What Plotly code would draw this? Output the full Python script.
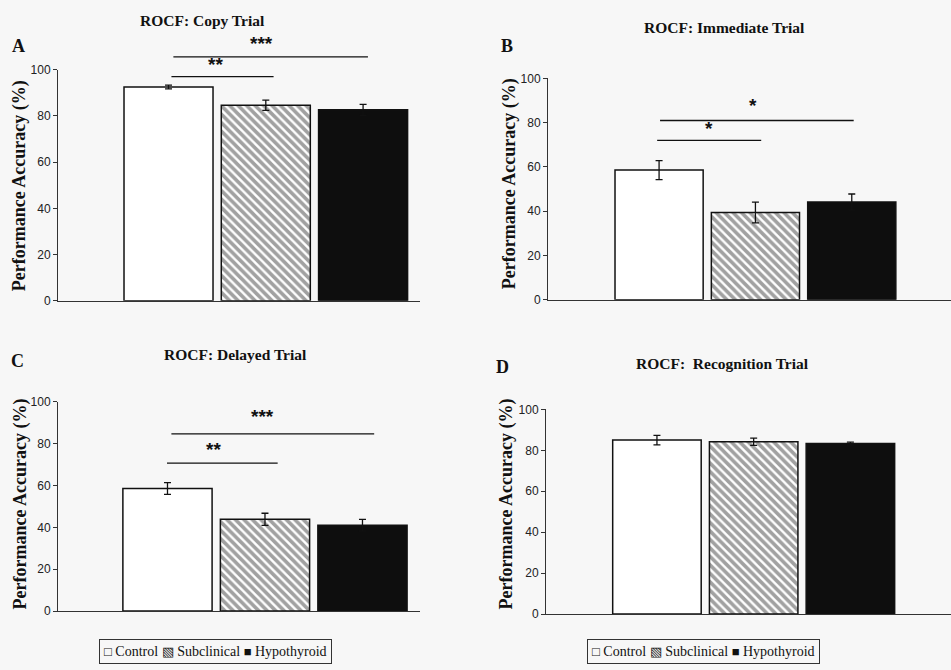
import plotly.graph_objects as go

# ---------------- data ----------------
categories = ["Control", "Subclinical", "Hypothyroid"]
panel_titles = ["ROCF: Copy Trial", "ROCF: Immediate Trial",
                "ROCF: Delayed Trial", "ROCF:  Recognition Trial"]
panel_letters = ["A", "B", "C", "D"]
y_title = "Performance Accuracy (%)"
y_ticks = [0, 20, 40, 60, 80, 100]

copy_mean = [92.5, 84.6, 82.6]
copy_sem = [0.8, 2.2, 2.4]
immediate_mean = [58.6, 39.4, 44.2]
immediate_sem = [4.3, 4.7, 3.6]
delayed_mean = [58.5, 43.8, 41.0]
delayed_sem = [2.8, 2.9, 2.8]
recognition_mean = [85.0, 84.2, 83.3]
recognition_sem = [2.3, 1.8, 0.7]

# significance brackets: (label, from idx, to idx, line y, star x, star y)
copy_sig = [("**", 0.03, 1.08, 97.0, 0.48, 101.5),
            ("***", 0.05, 2.05, 105.5, 0.96, 110.6)]
immediate_sig = [("*", -0.02, 1.06, 72.0, 0.52, 76.5),
                 ("*", 0.01, 2.02, 81.0, 0.97, 86.7)]
delayed_sig = [("**", -0.005, 1.13, 70.6, 0.47, 76.2),
               ("***", 0.04, 2.12, 84.6, 0.97, 92.0)]
recognition_sig = []

legend_text = ("<span style='font-size:13px'>\u25A1</span> Control "
               "<span style='font-size:13px'>\u25A7</span> Subclinical "
               "<span style='font-size:13px'>\u25A0</span> Hypothyroid")

means = [copy_mean, immediate_mean, delayed_mean, recognition_mean]
sems = [copy_sem, immediate_sem, delayed_sem, recognition_sem]
sigs = [copy_sig, immediate_sig, delayed_sig, recognition_sig]

# ---------------- layout geometry (pixels in a 951x670 page) ----------------
W, H = 951, 670
x_px = [(58, 420), (548, 951), (58, 420), (546, 951)]
y_px = [(64, 300), (73, 299), (403, 617), (411, 620)]   # (top=100, bottom=0)
x_ranges = [(-1.136, 2.585), (-1.153, 3.03), (-1.123, 2.59), (-1.147, 3.04)]
title_pos = [(202, 14), (724, 21), (235, 355), (722, 364)]
letter_pos = [(18, 40), (507, 40), (17, 362), (502, 368)]
ylabel_pos = [(19, 183), (509, 181), (20, 508), (506, 508)]
legend_pos = [(215, 658), (703, 658)]

BG = "#f7f7f7"
SERIF = "Liberation Serif, Times New Roman, serif"
SANS = "Liberation Sans, Arial, sans-serif"

def xdom(i):
    return [x_px[i][0] / W, x_px[i][1] / W]

def ydom(i):
    return [1 - y_px[i][1] / H, 1 - y_px[i][0] / H]

def to_paper(i, xv, yv):
    xd, yd, xr = xdom(i), ydom(i), x_ranges[i]
    px = xd[0] + (xv - xr[0]) / (xr[1] - xr[0]) * (xd[1] - xd[0])
    py = yd[0] + yv / 100.0 * (yd[1] - yd[0])
    return px, py

fig = go.Figure()
layout = dict(
    width=W, height=H, autosize=False,
    margin=dict(l=0, r=0, t=0, b=0),
    paper_bgcolor=BG, plot_bgcolor=BG,
    showlegend=False,
    annotations=[], shapes=[],
)

for i in range(4):
    sx = "" if i == 0 else str(i + 1)
    fig.add_trace(go.Bar(
        x=categories, y=means[i], name=panel_titles[i],
        xaxis="x" + sx, yaxis="y" + sx,
        width=0.915,
        marker=dict(
            color=["white", "white", "#0e0e0e"],
            line=dict(color="#111111", width=1.5),
            pattern=dict(shape=["", "\\", ""], fgcolor="#000000",
                         bgcolor="white", size=6, solidity=0.6),
        ),
        error_y=dict(type="data", array=sems[i], visible=True,
                     color="#111111", thickness=1.3, width=3.5),
    ))
    layout["xaxis" + sx] = dict(
        domain=xdom(i), anchor="y" + sx, range=list(x_ranges[i]),
        type="category", categoryorder="array", categoryarray=categories,
        showline=True, linecolor="#333333", linewidth=1,
        showticklabels=False, ticks="", showgrid=False, zeroline=False,
        fixedrange=True,
    )
    layout["yaxis" + sx] = dict(
        domain=ydom(i), anchor="x" + sx, range=[0, 100],
        tickvals=y_ticks, ticks="outside", ticklen=4, tickcolor="#333333",
        showline=True, linecolor="#333333", linewidth=1,
        tickfont=dict(family=SANS, size=12, color="#222222"),
        showgrid=False, zeroline=False, fixedrange=True,
    )
    # title, letter, y label
    tx, ty = title_pos[i]
    layout["annotations"].append(dict(
        text="<b>%s</b>" % panel_titles[i], x=tx / W, y=1 - ty / H,
        xref="paper", yref="paper", showarrow=False,
        xanchor="center", yanchor="middle",
        font=dict(family=SERIF, size=15.5, color="#111111")))
    lx, ly = letter_pos[i]
    layout["annotations"].append(dict(
        text="<b>%s</b>" % panel_letters[i], x=lx / W, y=1 - ly / H,
        xref="paper", yref="paper", showarrow=False,
        xanchor="center", yanchor="middle",
        font=dict(family=SERIF, size=18, color="#111111")))
    yx, yy = ylabel_pos[i]
    layout["annotations"].append(dict(
        text="<b>%s</b>" % y_title, x=yx / W, y=1 - yy / H,
        xref="paper", yref="paper", showarrow=False, textangle=-90,
        xanchor="center", yanchor="middle",
        font=dict(family=SERIF, size=18, color="#111111")))
    # significance brackets
    for lab, a, b, ly_, sxv, syv in sigs[i]:
        x0, y0 = to_paper(i, a, ly_)
        x1, _ = to_paper(i, b, ly_)
        layout["shapes"].append(dict(
            type="line", xref="paper", yref="paper",
            x0=x0, x1=x1, y0=y0, y1=y0,
            line=dict(color="#111111", width=1.3)))
        px_, py_ = to_paper(i, sxv, syv)
        layout["annotations"].append(dict(
            text="<b>%s</b>" % lab, x=px_, y=py_, yshift=2,
            xref="paper", yref="paper", showarrow=False,
            xanchor="center", yanchor="middle",
            font=dict(family=SANS, size=19, color="#111111")))

for lx, ly in legend_pos:
    layout["annotations"].append(dict(
        text=legend_text, x=lx / W, y=1 - ly / H,
        xref="paper", yref="paper", showarrow=False,
        xanchor="center", yanchor="middle",
        bordercolor="#333333", borderwidth=1, borderpad=4, bgcolor=BG,
        font=dict(family=SERIF, size=14, color="#111111")))

fig.update_layout(**layout)
fig.write_html("out.html")
